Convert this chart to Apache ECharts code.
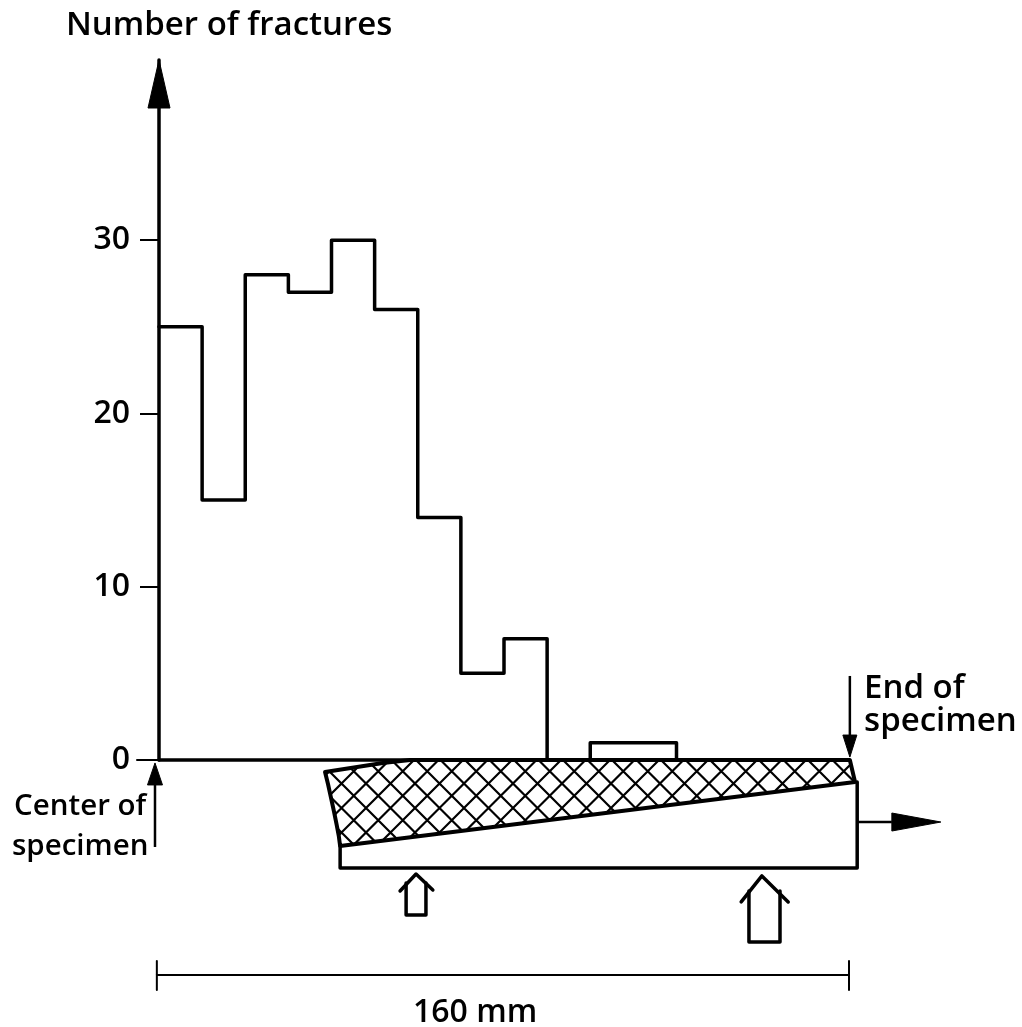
<!DOCTYPE html>
<html><head><meta charset="utf-8">
<style>html,body{margin:0;padding:0;background:#fff}#c{width:1022px;height:1027px}</style>
<script src="https://cdn.jsdelivr.net/npm/echarts@6/dist/echarts.min.js"></script>
</head><body><div id="c"></div>
<script>
// ---- data (x in mm from specimen centre, y in number of fractures) ----
const binEdges = [0,10,20,30,40,50,60,70,80,90,100,110,120,130,140,150,160];
const fractureCounts = [25,15,28,27,30,26,14,5,7,0,1,1,0,0,0,0];
const yTicks = [0,10,20,30];
const zeroTickExtension = [[-5.1,0],[0,0]];
const hatchOutline = [[38.5,-0.69],[39.2,-1.4],[39.9,-2.2],[40.6,-3.0],[41.2,-3.75],[41.7,-4.4],[42,-4.96],[161.4,-1.27],[160.2,0],[58.2,0],[51.9,-0.17]];
const beamOutline = [[42,-4.96],[42,-6.23],[161.9,-6.23],[161.9,-1.27]];
const leftSupportHead = [[55.9,-7.56],[59.6,-6.58],[63.5,-7.5]];
const leftSupportShaft = [[57.3,-7.1],[57.3,-8.94],[61.9,-8.94],[61.9,-7.1]];
const rightSupportHead = [[135,-8.19],[139.8,-6.69],[145.9,-8.19]];
const rightSupportShaft = [[136.8,-7.56],[136.8,-10.5],[144,-10.5],[144,-7.56]];
const dimensionLine = [[-0.5,-12.41],[160,-12.41]];
const dimensionEndLeft = [[-0.5,-11.6],[-0.5,-13.27]];
const dimensionEndRight = [[160,-11.6],[160,-13.27]];
const yAxisArrow = [0,0,0,40.4];
const centerArrow = [-0.93,-5.02,-0.93,-0.17];
const endArrow = [160.2,4.85,160.2,0.17];
const loadArrow = [162.1,-3.58,181.3,-3.58];
const annotationTexts = ['End of','specimen','Center of','specimen','160 mm'];
const annotationPositions = [[163.5,4.15],[163.5,2.2],[-33.6,-2.71],[-34.1,-5.0],[73.3,-14.6]];
const titleText = 'Number of fractures';

// ---- build ----
const FONT = '"Open Sans", "Noto Sans", sans-serif';
const annotationAligns = ['left','left','left','left','center'];
const annotationSizes = [33,33,29.5,29.5,32];
const histogram = [];
fractureCounts.forEach((v,i)=>{ histogram.push([binEdges[i],v],[binEdges[i+1],v]); });

function poly(points, width){
  return {type:'custom', data:[0], clip:false, silent:true, animation:false, z:5,
    renderItem(p, api){
      return {type:'polyline', shape:{points:points.map(q=>api.coord(q))},
        style:{stroke:'#000', lineWidth:width, fill:null, lineJoin:'round', lineCap:'round'}};
    }};
}
function arrow(seg, headLen, headWidth, shaftWidth, showShaft){
  return {type:'custom', data:[seg], clip:false, silent:true, animation:false, z:6, encode:{x:[0,2],y:[1,3]},
    renderItem(p, api){
      const a = api.coord([api.value(0),api.value(1)]), b = api.coord([api.value(2),api.value(3)]);
      const dx=b[0]-a[0], dy=b[1]-a[1], L=Math.hypot(dx,dy), ux=dx/L, uy=dy/L;
      const bx=b[0]-ux*headLen, by=b[1]-uy*headLen, nx=-uy*headWidth/2, ny=ux*headWidth/2;
      const kids=[{type:'polygon', shape:{points:[b,[bx+nx,by+ny],[bx-nx,by-ny]]}, style:{fill:'#000',stroke:'#000',lineWidth:1,lineJoin:'round'}}];
      if(showShaft) kids.push({type:'line', shape:{x1:a[0],y1:a[1],x2:bx,y2:by}, style:{stroke:'#000',lineWidth:shaftWidth,fill:null}});
      return {type:'group', children:kids};
    }};
}
const tile = document.createElement('canvas');
tile.width = 49; tile.height = 49;
(function(){ const g=tile.getContext('2d'); g.fillStyle='#fff'; g.fillRect(0,0,49,49);
  g.strokeStyle='#000'; g.lineWidth=2.2; g.beginPath();
  for(let k=-3;k<=5;k++){
    const c=1+k*24.5, s=-2+k*24.5;
    g.moveTo(-3,c-3); g.lineTo(52,c+52);
    g.moveTo(-3,s+3); g.lineTo(52,s-52);
  }
  g.stroke(); })();

const chart = echarts.init(document.getElementById('c'), null, {renderer:'canvas'});
chart.setOption({
  animation:false, backgroundColor:'#fff',
  title:{text:titleText, left:61, top:4, textStyle:{color:'#000', fontFamily:FONT, fontSize:33, fontWeight:600}},
  grid:{left:159, top:60, width:690, height:700, containLabel:false},
  xAxis:{type:'value', min:0, max:160, splitLine:{show:false}, axisTick:{show:false}, axisLabel:{show:false},
    axisLine:{show:true, onZero:false, lineStyle:{color:'#000', width:3.5}}},
  yAxis:{type:'value', min:0, max:40.4, splitLine:{show:false},
    axisLine:{show:true, onZero:false, lineStyle:{color:'#000', width:3.5}},
    axisTick:{show:true, customValues:yTicks, length:19, lineStyle:{color:'#000', width:2}},
    axisLabel:{show:true, customValues:yTicks, margin:29, color:'#000', fontFamily:FONT, fontSize:32, fontWeight:600, showMinLabel:true}},
  series:[
    {type:'custom', data:[0], clip:false, silent:true, animation:false, z:3,
      renderItem(p, api){
        return {type:'polygon', shape:{points:hatchOutline.map(q=>api.coord(q))},
          style:{fill:{image:tile, repeat:'repeat'}, stroke:'#000', lineWidth:4, lineJoin:'round'}};
      }},
    poly(histogram,3.5),
    poly(beamOutline,3.5),
    poly(zeroTickExtension,2),
    poly(leftSupportHead,3.5), poly(leftSupportShaft,3.5),
    poly(rightSupportHead,3.5), poly(rightSupportShaft,3.5),
    poly(dimensionLine,2), poly(dimensionEndLeft,2), poly(dimensionEndRight,2),
    arrow(yAxisArrow,48,22,3,false),
    arrow(centerArrow,22,15,2.5,true),
    arrow(endArrow,22,14,2.5,true),
    arrow(loadArrow,49,18,2.5,true),
    {type:'scatter', symbolSize:0, clip:false, silent:true, animation:false, z:7, itemStyle:{opacity:1},
      data:annotationTexts.map((t,i)=>({name:t, value:annotationPositions[i],
        label:{show:true, position:'inside', formatter:'{b}', align:annotationAligns[i], verticalAlign:'middle', color:'#000', fontFamily:FONT, fontSize:annotationSizes[i], fontWeight:600}}))}
  ]
});
</script></body></html>
